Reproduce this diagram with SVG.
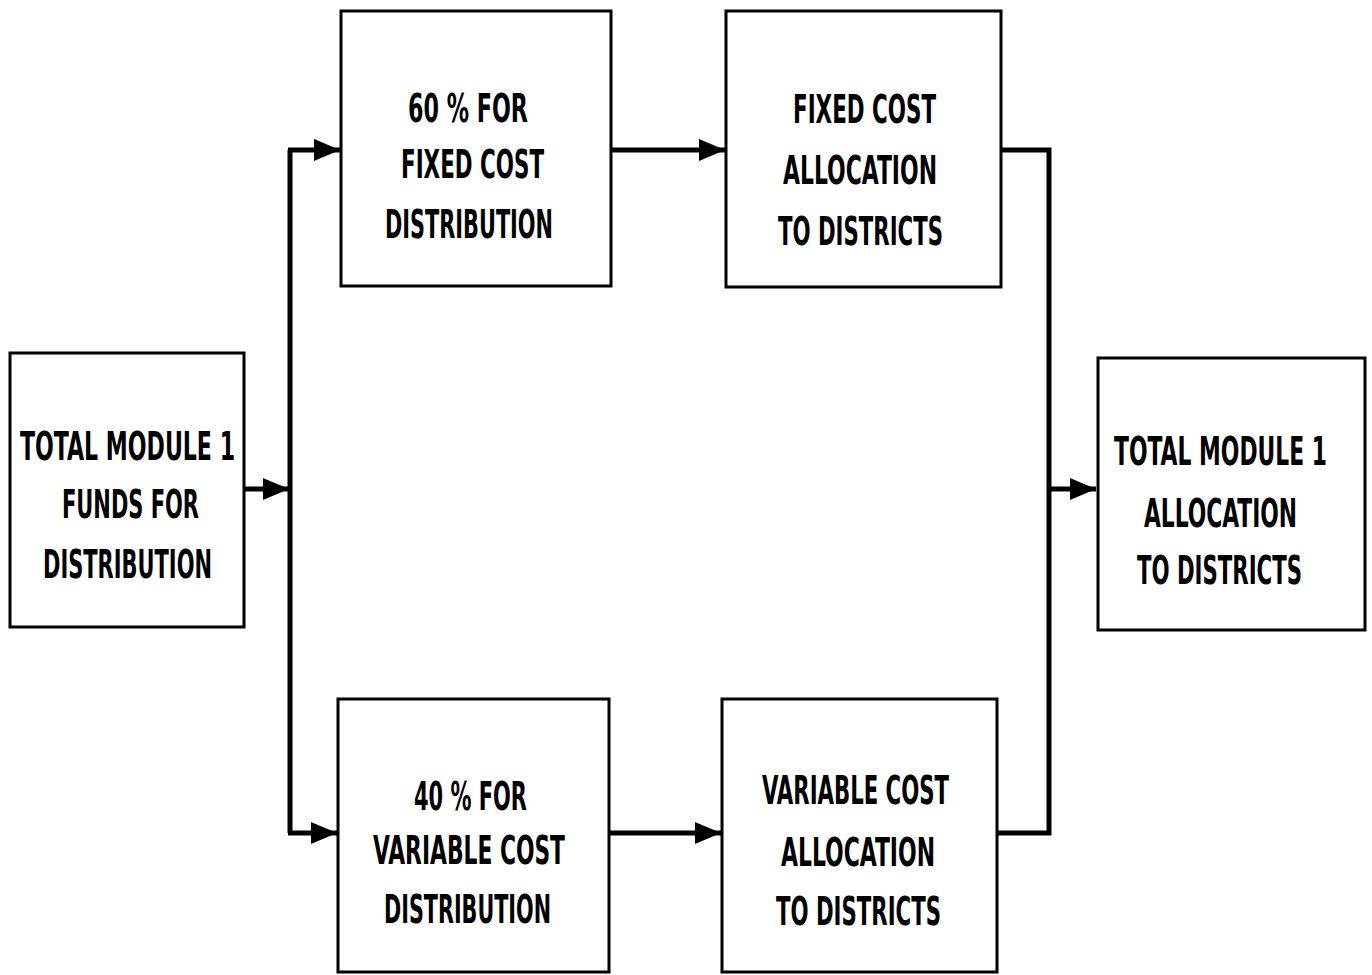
<svg xmlns="http://www.w3.org/2000/svg" width="1372" height="975" viewBox="0 0 1372 975">
<style>
.box{fill:#fff;stroke:#000;stroke-width:3}
.t{font-family:"DejaVu Sans Condensed","Liberation Sans",sans-serif;font-weight:bold;font-size:24px;fill:#000;text-anchor:middle}
.c{fill:none;stroke:#000;stroke-width:5}
</style>
<defs>
<marker id="ah" viewBox="0 0 26 22" refX="26" refY="11" markerWidth="26" markerHeight="22" markerUnits="userSpaceOnUse" orient="auto">
<path d="M0,0 L26,11 L0,22 Z" fill="#000"/>
</marker>
</defs>
<rect width="1372" height="975" fill="#fff"/>
<g id="connectors">
<path class="c" d="M244,489 H289" marker-end="url(#ah)"/>
<path class="c" d="M290,150 V833"/>
<path class="c" d="M288,150 H340" marker-end="url(#ah)"/>
<path class="c" d="M288,833 H337" marker-end="url(#ah)"/>
<path class="c" d="M611,150 H725" marker-end="url(#ah)"/>
<path class="c" d="M609,833 H721" marker-end="url(#ah)"/>
<path class="c" d="M1001,150 H1049 V833 H997"/>
<path class="c" d="M1049,489 H1096" marker-end="url(#ah)"/>
</g>
<g id="n_total_funds">
<rect class="box" x="10" y="353" width="234" height="274"/>
<text class="t" transform="translate(127.5 460) scale(1 1.65)" textLength="215" lengthAdjust="spacingAndGlyphs">TOTAL MODULE 1</text>
<text class="t" transform="translate(130.5 518) scale(1 1.65)" textLength="137" lengthAdjust="spacingAndGlyphs">FUNDS FOR</text>
<text class="t" transform="translate(127.5 578) scale(1 1.65)" textLength="169" lengthAdjust="spacingAndGlyphs">DISTRIBUTION</text>
</g>
<g id="n_fixed_dist">
<rect class="box" x="341" y="11" width="270" height="275"/>
<text class="t" transform="translate(468 122) scale(1 1.6)" textLength="120" lengthAdjust="spacingAndGlyphs">60 % FOR</text>
<text class="t" transform="translate(472.5 178) scale(1 1.6)" textLength="143" lengthAdjust="spacingAndGlyphs">FIXED COST</text>
<text class="t" transform="translate(469 238) scale(1 1.6)" textLength="168" lengthAdjust="spacingAndGlyphs">DISTRIBUTION</text>
</g>
<g id="n_fixed_alloc">
<rect class="box" x="726" y="11" width="275" height="276"/>
<text class="t" transform="translate(864.5 123) scale(1 1.6)" textLength="143" lengthAdjust="spacingAndGlyphs">FIXED COST</text>
<text class="t" transform="translate(860 184) scale(1 1.6)" textLength="154" lengthAdjust="spacingAndGlyphs">ALLOCATION</text>
<text class="t" transform="translate(860.5 245) scale(1 1.6)" textLength="165" lengthAdjust="spacingAndGlyphs">TO DISTRICTS</text>
</g>
<g id="n_var_dist">
<rect class="box" x="338" y="699" width="271" height="273"/>
<text class="t" transform="translate(470.5 810) scale(1 1.6)" textLength="113" lengthAdjust="spacingAndGlyphs">40 % FOR</text>
<text class="t" transform="translate(469 864) scale(1 1.6)" textLength="192" lengthAdjust="spacingAndGlyphs">VARIABLE COST</text>
<text class="t" transform="translate(467.5 923) scale(1 1.6)" textLength="167" lengthAdjust="spacingAndGlyphs">DISTRIBUTION</text>
</g>
<g id="n_var_alloc">
<rect class="box" x="722" y="699" width="275" height="273"/>
<text class="t" transform="translate(855.5 804) scale(1 1.6)" textLength="187" lengthAdjust="spacingAndGlyphs">VARIABLE COST</text>
<text class="t" transform="translate(858 866) scale(1 1.6)" textLength="154" lengthAdjust="spacingAndGlyphs">ALLOCATION</text>
<text class="t" transform="translate(858.5 925) scale(1 1.6)" textLength="165" lengthAdjust="spacingAndGlyphs">TO DISTRICTS</text>
</g>
<g id="n_total_alloc">
<rect class="box" x="1098" y="358" width="267" height="272"/>
<text class="t" transform="translate(1220.5 465) scale(1 1.65)" textLength="213" lengthAdjust="spacingAndGlyphs">TOTAL MODULE 1</text>
<text class="t" transform="translate(1220.5 527) scale(1 1.65)" textLength="153" lengthAdjust="spacingAndGlyphs">ALLOCATION</text>
<text class="t" transform="translate(1219.5 584) scale(1 1.65)" textLength="165" lengthAdjust="spacingAndGlyphs">TO DISTRICTS</text>
</g>
</svg>
